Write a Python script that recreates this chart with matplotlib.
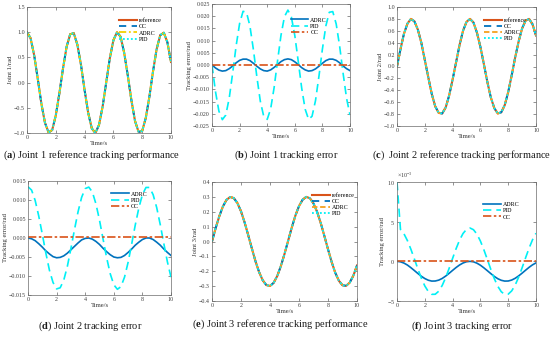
import numpy as np
import matplotlib
matplotlib.use("Agg")
import matplotlib.pyplot as plt
from matplotlib.ticker import ScalarFormatter

# ---------------- data ----------------
time_s = np.linspace(0, 10, 41)

joint1_ref = [1.00, 0.88, 0.54, 0.07, -0.42, -0.80, -0.99, -0.94, -0.65, -0.21, 0.28, 0.71, 0.96, 0.98,
              0.75, 0.35, -0.15, -0.60, -0.91, -1.00, -0.84, -0.48, 0.00, 0.48, 0.84, 1.00, 0.91, 0.59,
              0.14, -0.35, -0.76, -0.98, -0.96, -0.70, -0.28, 0.22, 0.66, 0.94, 0.99, 0.80, 0.41]
joint2_ref = [0.00, 0.29, 0.55, 0.72, 0.80, 0.76, 0.62, 0.40, 0.11, -0.18, -0.46, -0.67, -0.78, -0.79,
              -0.69, -0.49, -0.22, 0.07, 0.36, 0.60, 0.75, 0.80, 0.74, 0.57, 0.33, 0.04, -0.26, -0.52,
              -0.70, -0.79, -0.77, -0.65, -0.43, -0.15, 0.15, 0.42, 0.64, 0.77, 0.80, 0.71, 0.52]
joint3_ref = [0.000, 0.089, 0.169, 0.235, 0.280, 0.299, 0.292, 0.259, 0.203, 0.128, 0.042, -0.047,
              -0.133, -0.206, -0.261, -0.293, -0.299, -0.278, -0.232, -0.165, -0.084, 0.005, 0.093,
              0.174, 0.238, 0.281, 0.300, 0.291, 0.256, 0.199, 0.124, 0.037, -0.052, -0.137, -0.210,
              -0.264, -0.294, -0.298, -0.276, -0.229, -0.161]

joint1_err_adrc = [0.0, -0.0012, -0.0021, -0.0025, -0.0023, -0.0015, -0.0004, 0.0009, 0.0019, 0.0024,
                   0.0024, 0.0018, 0.0007, -0.0005, -0.0016, -0.0023, -0.0025, -0.0020, -0.0010, 0.0002,
                   0.0014, 0.0022, 0.0025, 0.0022, 0.0013, 0.0002, -0.0011, -0.0020, -0.0025, -0.0023,
                   -0.0016, -0.0005, 0.0007, 0.0018, 0.0024, 0.0024, 0.0019, 0.0009, -0.0004, -0.0015,
                   -0.0023]
joint1_err_pid = [0.0, -0.0108, -0.0189, -0.0224, -0.0205, -0.0135, -0.0032, 0.0079, 0.0170, 0.0220,
                  0.0216, 0.0159, 0.0063, -0.0048, -0.0148, -0.0211, -0.0223, -0.0180, -0.0093, 0.0017,
                  0.0122, 0.0198, 0.0225, 0.0197, 0.0121, 0.0015, -0.0095, -0.0181, -0.0223, -0.0210,
                  -0.0146, -0.0046, 0.0065, 0.0160, 0.0216, 0.0219, 0.0168, 0.0077, -0.0034, -0.0136,
                  -0.0205]
joint1_err_cc = [0.0002] * 41

joint2_err_adrc = [0.0, -0.0002, -0.0007, -0.0015, -0.0024, -0.0034, -0.0042, -0.0049, -0.0052, -0.0051,
                   -0.0047, -0.0040, -0.0031, -0.0022, -0.0013, -0.0005, -0.0001, 0.0000, -0.0003,
                   -0.0009, -0.0017, -0.0027, -0.0036, -0.0044, -0.0050, -0.0052, -0.0051, -0.0046,
                   -0.0038, -0.0029, -0.0019, -0.0011, -0.0004, 0.0000, 0.0000, -0.0004, -0.0011,
                   -0.0019, -0.0029, -0.0038, -0.0046]
joint2_err_pid = [0.0135, 0.0126, 0.0099, 0.0058, 0.0010, -0.0040, -0.0085, -0.0117, -0.0134, -0.0131,
                  -0.0111, -0.0075, -0.0028, 0.0022, 0.0069, 0.0107, 0.0130, 0.0134, 0.0121, 0.0090,
                  0.0047, -0.0003, -0.0052, -0.0094, -0.0123, -0.0135, -0.0128, -0.0103, -0.0064,
                  -0.0016, 0.0034, 0.0079, 0.0114, 0.0133, 0.0133, 0.0114, 0.0080, 0.0035, -0.0015,
                  -0.0063, -0.0103]
joint2_err_cc = [0.0002] * 41

# joint 3 errors in units of 1e-3 rad
joint3_err_adrc_milli = [0.00, -0.06, -0.22, -0.47, -0.80, -1.16, -1.53, -1.88, -2.17, -2.38, -2.49,
                         -2.48, -2.37, -2.16, -1.86, -1.51, -1.14, -0.78, -0.46, -0.21, -0.05, 0.00,
                         -0.06, -0.23, -0.49, -0.82, -1.18, -1.55, -1.90, -2.19, -2.39, -2.49, -2.48,
                         -2.36, -2.14, -1.84, -1.49, -1.12, -0.76, -0.44, -0.20]
joint3_err_pid_milli = [10.0, 4.01, 3.47, 2.61, 1.52, 0.30, -0.95, -2.12, -3.10, -3.80, -4.16, -4.15,
                        -3.77, -3.05, -2.06, -0.89, 0.37, 1.59, 2.67, 3.51, 4.03, 4.20, 3.99, 3.43,
                        2.56, 1.46, 0.23, -1.02, -2.18, -3.14, -3.83, -4.17, -4.14, -3.73, -3.00,
                        -2.00, -0.82, 0.44, 1.65, 2.72, 3.54]
joint3_err_cc_milli = [0.05] * 41

x_ticks = [0, 2, 4, 6, 8, 10]
captions = ["a", "Joint 1 reference tracking performance",
            "b", "Joint 1 tracking error",
            "c", " Joint 2 reference tracking performance",
            "d", "Joint 2 tracking error",
            "e", "Joint 3 reference tracking performance",
            "f", "Joint 3 tracking error"]

# ---------------- style ----------------
plt.rcParams["font.family"] = ["Liberation Serif", "DejaVu Serif"]
plt.rcParams["mathtext.fontset"] = "custom"
plt.rcParams["mathtext.rm"] = "Liberation Serif"
plt.rcParams["mathtext.bf"] = "Liberation Serif:bold"
plt.rcParams["mathtext.it"] = "Liberation Serif:italic"

W, H = 550, 337
fig = plt.figure(figsize=(W / 100, H / 100), dpi=100)

C_REF = "#D95319"
C_BLUE = "#0072BD"
C_YEL = "#F2D000"
C_ORG = "#F5A020"
C_CYAN = "#00F0F5"
TICK_FS = 4.3
LAB_FS = 4.8


def px_axes(l, t, r, b):
    return fig.add_axes([l / W, 1 - b / H, (r - l) / W, (b - t) / H])


def style(ax, ylim, yticks, ylabel):
    ax.set_xlim(0, 10)
    ax.set_ylim(*ylim)
    ax.set_xticks(x_ticks)
    ax.set_yticks(yticks)
    ax.tick_params(direction="in", length=2, width=0.4, top=True, right=True,
                   labelsize=TICK_FS, pad=1.5, colors="#404040")
    for s in ax.spines.values():
        s.set_linewidth(0.5)
        s.set_color("#6a6a6a")
    ax.set_xlabel("Time/s", fontsize=LAB_FS, labelpad=1, color="#303030")
    ax.set_ylabel(ylabel, fontsize=LAB_FS, labelpad=1, color="#303030")


def tracking(ax, ref, adrc_color, adrc_ls):
    ax.plot(time_s, ref, color=C_REF, lw=1.5, ls="-", label="reference")
    ax.plot(time_s, ref, color=C_BLUE, lw=1.3, ls=(0, (4, 3)), label="CC")
    ax.plot(time_s, ref, color=adrc_color, lw=1.3, ls=adrc_ls, label="ADRC")
    ax.plot(time_s, ref, color=C_CYAN, lw=1.3, ls=(0, (1, 1.2)), label="PID")


def errors(ax, adrc, pid, cc):
    ax.plot(time_s, adrc, color=C_BLUE, lw=1.2, ls="-", label="ADRC")
    ax.plot(time_s, pid, color=C_CYAN, lw=1.2, ls=(0, (5, 3)), label="PID")
    ax.plot(time_s, cc, color=C_REF, lw=1.2, ls=(0, (5, 1.5, 1.5, 1.5)), label="CC")


def legend(ax, anchor):
    ax.legend(loc="upper right", bbox_to_anchor=anchor, frameon=False, fontsize=TICK_FS,
              handlelength=3.0, handletextpad=0.3, labelspacing=0.15, borderaxespad=0)


# (a)
ax = px_axes(27, 7, 171, 133)
tracking(ax, joint1_ref, C_YEL, (0, (4, 1.5, 1, 1.5)))
style(ax, (-1, 1.5), [-1, -0.5, 0, 0.5, 1, 1.5], "Joint 1/rad")
legend(ax, (0.95, 0.93))

# (b)
ax = px_axes(212, 4, 350, 126)
errors(ax, joint1_err_adrc, joint1_err_pid, joint1_err_cc)
style(ax, (-0.025, 0.025), np.round(np.arange(-0.025, 0.0251, 0.005), 3), "Tracking error/rad")
legend(ax, (0.85, 0.91))

# (c)
ax = px_axes(397, 7, 536, 126)
tracking(ax, joint2_ref, C_ORG, (0, (3, 1.5)))
style(ax, (-1, 1), np.round(np.arange(-1, 1.01, 0.2), 1), "Joint 2/rad")
legend(ax, (0.95, 0.93))

# (d)
ax = px_axes(28, 181, 171, 295)
errors(ax, joint2_err_adrc, joint2_err_pid, joint2_err_cc)
style(ax, (-0.015, 0.015), np.round(np.arange(-0.015, 0.0151, 0.005), 3), "Tracking error/rad")
legend(ax, (0.85, 0.93))

# (e)
ax = px_axes(212, 182, 357, 301)
tracking(ax, joint3_ref, C_ORG, (0, (3, 1.5)))
style(ax, (-0.4, 0.4), np.round(np.arange(-0.4, 0.401, 0.1), 1), "Joint 3/rad")
legend(ax, (1.0, 0.93))

# (f)
ax = px_axes(397, 182, 536, 301)
errors(ax, 1e-3 * np.array(joint3_err_adrc_milli), 1e-3 * np.array(joint3_err_pid_milli),
       1e-3 * np.array(joint3_err_cc_milli))
style(ax, (-0.005, 0.010), [-0.005, 0, 0.005, 0.010], "Tracking error/rad")
fmt = ScalarFormatter(useMathText=True)
fmt.set_powerlimits((-3, -3))
ax.yaxis.set_major_formatter(fmt)
ax.yaxis.get_offset_text().set_fontsize(TICK_FS)
legend(ax, (0.9, 0.85))

# captions
cap_pos = [(92, 155), (286, 155), (462, 155), (90, 326), (280, 324), (462, 326)]
for i, (cx, cy) in enumerate(cap_pos):
    letter, text = captions[2 * i], captions[2 * i + 1]
    fig.text(cx / W, 1 - cy / H, r"($\mathbf{" + letter + r"}$) " + text,
             ha="center", va="center", fontsize=7.5, color="#1a1a1a")

fig.savefig("out.png", dpi=100)
